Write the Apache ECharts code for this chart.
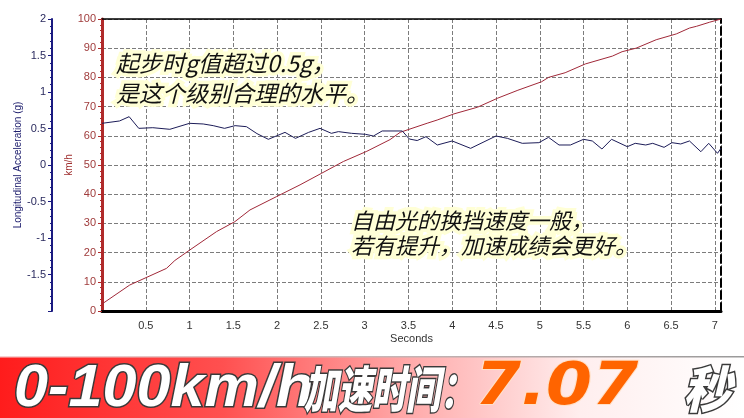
<!DOCTYPE html>
<html>
<head>
<meta charset="utf-8">
<script src="https://cdn.jsdelivr.net/npm/echarts@6/dist/echarts.min.js"></script>
<style>
html,body{margin:0;padding:0;background:#fff;}
#chart{width:744px;height:418px;}
</style>
</head>
<body>
<div id="chart"></div>
<script>
// ---- data ----
const speedTime = [0, 0.317, 0.737, 0.832, 1.003, 1.309, 1.518, 1.69, 1.995, 2.262, 2.51, 2.757, 3.025, 3.29, 3.406, 3.714, 3.828, 4.02, 4.29, 4.52, 4.75, 5.02, 5.10, 5.29, 5.52, 5.83, 5.94, 6.10, 6.33, 6.56, 6.71, 6.79, 6.94, 7.07];
const speedVals = [2.4, 8.9, 14.6, 17.3, 20.9, 27.2, 30.6, 34.6, 39.2, 43.2, 47.2, 51.2, 54.7, 58.7, 61.2, 64.3, 65.4, 67.5, 69.8, 72.9, 75.6, 78.5, 80.0, 81.6, 84.6, 87.3, 88.8, 90.0, 92.9, 94.9, 96.9, 97.5, 98.9, 100];
const accelTime = [0.0, 0.20, 0.31, 0.42, 0.58, 0.775, 1.00, 1.156, 1.27, 1.40, 1.52, 1.65, 1.77, 1.90, 2.09, 2.21, 2.36, 2.49, 2.62, 2.70, 2.85, 3.01, 3.10, 3.20, 3.43, 3.51, 3.60, 3.70, 3.83, 4.00, 4.21, 4.50, 4.63, 4.80, 4.99, 5.10, 5.22, 5.35, 5.50, 5.60, 5.71, 5.82, 6.00, 6.09, 6.21, 6.29, 6.42, 6.51, 6.61, 6.71, 6.84, 6.93, 7.03, 7.07];
const accelVals = [0.571, 0.603, 0.662, 0.502, 0.511, 0.489, 0.571, 0.562, 0.539, 0.502, 0.539, 0.525, 0.43, 0.352, 0.447, 0.365, 0.447, 0.502, 0.434, 0.457, 0.434, 0.420, 0.397, 0.466, 0.466, 0.356, 0.335, 0.388, 0.274, 0.329, 0.228, 0.397, 0.365, 0.297, 0.306, 0.379, 0.274, 0.274, 0.352, 0.329, 0.219, 0.352, 0.251, 0.297, 0.274, 0.297, 0.242, 0.306, 0.288, 0.329, 0.182, 0.297, 0.160, 0.229];
const timeMax = 7.07;
const xTickStep = 0.5;
const accelRange = [-2, 2];
const speedRange = [0, 100];
const xName = 'Seconds';
const accelName = 'Longitudinal Acceleration (g)';
const speedName = 'km/h';
const note1 = '起步时g值超过0.5g，\n是这个级别合理的水平。';
const note2 = '自由光的换挡速度一般，\n若有提升，加速成绩会更好。';
const bannerLead = '0-100km/h';
const bannerMid = '加速时间：';
const bannerValue = '7.07';
const bannerUnit = '秒';

const speedData = speedTime.map((t, i) => [t, speedVals[i]]);
const accelData = accelTime.map((t, i) => [t, accelVals[i]]);

const chart = echarts.init(document.getElementById('chart'), null, {renderer: 'canvas'});
const FONT = '"Liberation Sans", Arial, sans-serif';
const CJK = '"Noto Sans CJK SC", sans-serif';
const gridDash = {type: 'dashed', color: '#7c7c7c', width: 1};

function annotation(text, x, y, size, lh) {
  return [
    {type: 'text', x: x, y: y, z: 50, silent: true,
     style: {text: text, font: 'italic ' + size + 'px ' + CJK, lineHeight: lh, fill: '#ffffd6', stroke: '#ffffd6', lineWidth: 7, textVerticalAlign: 'top'}},
    {type: 'text', x: x, y: y, z: 51, silent: true,
     style: {text: text, font: 'italic ' + size + 'px ' + CJK, lineHeight: lh, fill: '#111', textVerticalAlign: 'top'}}
  ];
}

const option = {
  animation: false,
  backgroundColor: '#fff',
  grid: {left: 102, right: 23, top: 19, bottom: 107, containLabel: false},
  xAxis: [
    {type: 'value', min: 0, max: timeMax, interval: xTickStep, position: 'bottom',
     axisLine: {show: true, onZero: false, lineStyle: {color: '#000', width: 3}},
     axisTick: {show: false},
     axisLabel: {fontSize: 11, color: '#333', fontFamily: FONT, margin: 9,
       formatter: v => (v === 0 || v > timeMax - 0.01) ? '' : String(v)},
     splitLine: {show: true, lineStyle: gridDash},
     name: xName, nameLocation: 'middle', nameGap: 22, nameMoveOverlap: false,
     nameTextStyle: {fontSize: 11, color: '#333', fontFamily: FONT}},
    {type: 'value', min: 0, max: timeMax, position: 'top',
     axisLine: {show: true, onZero: false, lineStyle: {color: '#000', width: 1.5}},
     axisTick: {show: false}, axisLabel: {show: false}, splitLine: {show: false}}
  ],
  yAxis: [
    {type: 'value', min: accelRange[0], max: accelRange[1], interval: 0.5, position: 'left', offset: 50,
     axisLine: {show: true, onZero: false, lineStyle: {color: '#1a1a80', width: 2}},
     axisTick: {show: true, length: 4, lineStyle: {color: '#1a1a80'}},
     minorTick: {show: true, splitNumber: 5, length: 2, lineStyle: {color: '#1a1a80'}},
     axisLabel: {color: '#2a2a5e', fontSize: 11, fontFamily: FONT, margin: 6,
       formatter: v => v === accelRange[0] ? '' : String(v)},
     splitLine: {show: false},
     name: accelName, nameLocation: 'middle', nameGap: 29, nameRotate: 90, nameMoveOverlap: false,
     nameTextStyle: {color: '#1c1c6c', fontSize: 10, fontFamily: FONT}},
    {type: 'value', min: speedRange[0], max: speedRange[1], interval: 10, position: 'left',
     axisLine: {show: true, onZero: false, lineStyle: {color: '#b02a2a', width: 3}},
     axisTick: {show: true, length: 4, lineStyle: {color: '#b02a2a'}},
     minorTick: {show: true, splitNumber: 5, length: 2, lineStyle: {color: '#b02a2a'}},
     axisLabel: {color: '#a03c3c', fontSize: 11, fontFamily: FONT, margin: 6},
     splitLine: {show: true, lineStyle: gridDash},
     name: speedName, nameLocation: 'middle', nameGap: 28, nameRotate: 90, nameMoveOverlap: false,
     nameTextStyle: {color: '#a03030', fontSize: 10, fontFamily: FONT}},
    {type: 'value', min: speedRange[0], max: speedRange[1], position: 'right',
     axisLine: {show: true, onZero: false, lineStyle: {color: '#000', width: 2, type: 'dashed'}},
     axisTick: {show: false}, axisLabel: {show: false}, splitLine: {show: false}}
  ],
  series: [
    {type: 'line', name: 'Speed', xAxisIndex: 0, yAxisIndex: 1, data: speedData,
     showSymbol: false, symbol: 'none', lineStyle: {color: '#a02838', width: 1}, z: 3},
    {type: 'line', name: 'Acceleration', xAxisIndex: 0, yAxisIndex: 0, data: accelData,
     showSymbol: false, symbol: 'none', lineStyle: {color: '#1c1c58', width: 1}, z: 4}
  ],
  graphic: [
    ...annotation(note1, 116, 48, 23, 30),
    ...annotation(note2, 351, 208, 22, 25),
    {type: 'rect', silent: true, z: 20, shape: {x: 0, y: 357, width: 744, height: 61},
     style: {fill: {type: 'linear', x: 0, y: 0, x2: 1, y2: 0, colorStops: [
       {offset: 0, color: '#ff1c1c'}, {offset: 0.3, color: '#ff5050'},
       {offset: 0.55, color: '#ffaaaa'}, {offset: 0.78, color: '#ffeeee'}, {offset: 1, color: '#ffffff'}]}}},
    {type: 'rect', silent: true, z: 21, shape: {x: 0, y: 356, width: 744, height: 1.5},
     style: {fill: {type: 'linear', x: 0, y: 0, x2: 1, y2: 0, colorStops: [
       {offset: 0, color: '#f7d0d0'}, {offset: 1, color: '#9a9a9a'}]}}},
    {type: 'text', silent: true, z: 30, x: 14, y: 389, scaleX: 1.02,
     style: {text: bannerLead, font: 'italic bold 60px ' + FONT, fill: '#fff', stroke: '#3a3a3a', lineWidth: 3, textVerticalAlign: 'middle'}},
    {type: 'text', silent: true, z: 30, x: 304, y: 389, scaleX: 0.68,
     style: {text: bannerMid, font: 'italic 900 50px ' + CJK, fill: '#fff', stroke: '#3a3a3a', lineWidth: 3, textVerticalAlign: 'middle'}},
    {type: 'text', silent: true, z: 30, x: 475, y: 389, scaleX: 1.14,
     style: {text: bannerValue, font: 'italic bold 58px "DejaVu Sans", sans-serif', fill: '#ff6400', stroke: '#ffe0c8', lineWidth: 2, textVerticalAlign: 'middle'}},
    {type: 'text', silent: true, z: 30, x: 683, y: 389, scaleX: 0.96,
     style: {text: bannerUnit, font: 'italic 900 50px ' + CJK, fill: '#fff', stroke: '#3a3a3a', lineWidth: 3, textVerticalAlign: 'middle'}}
  ]
};
chart.setOption(option);
</script>
</body>
</html>
